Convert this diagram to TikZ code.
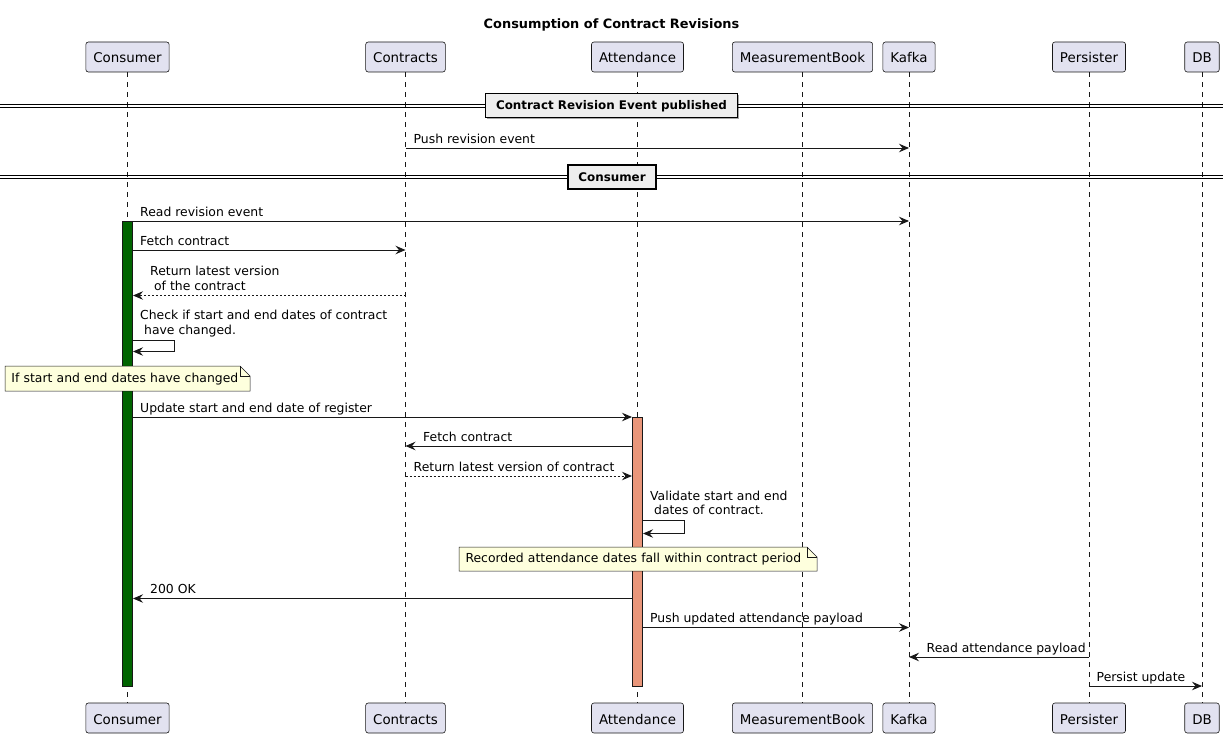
\documentclass[tikz,border=0pt]{standalone}
\usepackage{fontspec}
\setmainfont{DejaVu Sans}
\usetikzlibrary{arrows.meta,shadows}
\definecolor{edgecol}{HTML}{181818}
\definecolor{partfill}{HTML}{E2E2F0}
\definecolor{notefill}{HTML}{FEFFDD}
\definecolor{divfill}{HTML}{EEEEEE}
\definecolor{greenbar}{HTML}{006400}
\definecolor{salmonbar}{HTML}{E9967A}
\begin{document}
\begin{tikzpicture}[x=1pt, y=-1pt,
  part/.style={draw=edgecol, fill=partfill, line width=0.6pt, rounded corners=2.5pt,
    minimum height=30pt, inner xsep=7.5pt, inner ysep=0pt, text height=14pt, text depth=2pt,
    font=\fontsize{13.4}{16}\selectfont},
  life/.style={draw=edgecol, line width=0.5pt, dash pattern=on 5pt off 5pt},
  actbar/.style={draw=edgecol, line width=0.6pt, inner sep=0pt, minimum width=10.5pt, anchor=north},
  msg/.style={draw=edgecol, line width=0.9pt, -{Stealth[length=10pt, width=8.5pt, inset=3.5pt]}},
  reply/.style={msg, dash pattern=on 2pt off 2pt},
  lbl/.style={anchor=south west, inner sep=0pt, text depth=0pt, align=left,
    font=\fontsize{12.4}{14.6}\selectfont},
  notebox/.style={fill=notefill, inner xsep=6.5pt, inner ysep=0pt, outer sep=0pt, align=left,
    anchor=north west, text height=9.6pt, text depth=1.8pt, font=\fontsize{12.4}{14.6}\selectfont},
  noteline/.style={draw=edgecol, line width=0.5pt},
  divline/.style={draw=black, line width=0.9pt},
  divider/.style={draw=black, fill=divfill, line width=1.4pt, inner xsep=10.4pt, inner ysep=0pt,
    minimum height=24pt, text height=8.7pt, text depth=0pt,
    font=\bfseries\fontsize{11.9}{14}\selectfont,
    drop shadow={shadow xshift=1.2pt, shadow yshift=-1.2pt, opacity=0.35, fill=black}}
]
\useasboundingbox[fill=white] (0,0) rectangle (1229,738);

% title
\node[font=\bfseries\fontsize{12.9}{15}\selectfont, anchor=base, inner sep=0pt] (title) at (611.5,29) {Consumption of Contract Revisions};

% participants
\node[part] (pConsumer) at (127.5,57) {Consumer};
\node[part] (pContracts) at (405.5,57) {Contracts};
\node[part] (pAttendance) at (637.5,57) {Attendance};
\node[part] (pMB) at (802.5,57) {MeasurementBook};
\node[part] (pKafka) at (909,57) {Kafka};
\node[part] (pPersister) at (1089,57) {Persister};
\node[part] (pDB) at (1202,57) {DB};

\node[part] (bConsumer) at (127.5,718) {Consumer};
\node[part] (bContracts) at (405.5,718) {Contracts};
\node[part] (bAttendance) at (637.5,718) {Attendance};
\node[part] (bMB) at (802.5,718) {MeasurementBook};
\node[part] (bKafka) at (909,718) {Kafka};
\node[part] (bPersister) at (1089,718) {Persister};
\node[part] (bDB) at (1202,718) {DB};

% lifelines
\foreach \n in {Consumer,Contracts,Attendance,MB,Kafka,Persister,DB}
  \draw[life] (p\n.south) -- (b\n.north);

% activation bars
\node[actbar, fill=greenbar, minimum height=465pt] (barC) at (127.5,221) {};
\node[actbar, fill=salmonbar, minimum height=269pt] (barA) at (637.5,417) {};

% messages
\draw[msg] (pContracts |- 0,148) -- (pKafka |- 0,148);
\node[lbl] (l1) at (413.5,143.5) {Push revision event};

\draw[msg] (barC.east |- 0,221) -- (pKafka |- 0,221);
\node[lbl] (l2) at (140,216.5) {Read revision event};

\draw[msg] (barC.east |- 0,250) -- (pContracts |- 0,250);
\node[lbl] (l3) at (140,245.5) {Fetch contract};

\draw[reply] (pContracts |- 0,295.5) -- (barC.east |- 0,295.5);
\node[lbl] (l4) at (150,290.5) {Return latest version\\\ of the contract};

\draw[msg] (barC.east |- 0,340) -- (174,340) -- (174,351.5) -- (barC.east |- 0,351.5);
\node[lbl] (l5) at (140,334.5) {Check if start and end dates of contract\\\ have changed.};

\draw[msg] (barC.east |- 0,417) -- (barA.west |- 0,417);
\node[lbl] (l6) at (140,412.5) {Update start and end date of register};

\draw[msg] (barA.west |- 0,446) -- (pContracts |- 0,446);
\node[lbl] (l7) at (423,441.5) {Fetch contract};

\draw[reply] (pContracts |- 0,476) -- (barA.west |- 0,476);
\node[lbl] (l8) at (413.5,471.5) {Return latest version of contract};

\draw[msg] (barA.east |- 0,520.5) -- (684.5,520.5) -- (684.5,533.5) -- (barA.east |- 0,533.5);
\node[lbl] (l9) at (650,515) {Validate start and end\\\ dates of contract.};

\draw[msg] (barA.west |- 0,598.5) -- (barC.east |- 0,598.5);
\node[lbl] (l10) at (150,594) {200 OK};

\draw[msg] (barA.east |- 0,627.5) -- (pKafka |- 0,627.5);
\node[lbl] (l11) at (650,623) {Push updated attendance payload};

\draw[msg] (pPersister |- 0,657) -- (pKafka |- 0,657);
\node[lbl] (l12) at (926.5,652.5) {Read attendance payload};

\draw[msg] (pPersister |- 0,686) -- (pDB |- 0,686);
\node[lbl] (l13) at (1096.5,681.5) {Persist update};

% notes
\node[notebox, text width=232pt, minimum height=25pt] (note1) at (5,366) {If start and end dates have changed};
\fill[white] ([xshift=-10pt]note1.north east) -- (note1.north east) -- ([yshift=-10pt]note1.north east) -- cycle;
\draw[noteline] (note1.south west) -- (note1.north west) -- ([xshift=-10pt]note1.north east)
  -- ([yshift=-10pt]note1.north east) -- (note1.south east) -- cycle;
\draw[noteline] ([xshift=-10pt]note1.north east) -- ([xshift=-10pt,yshift=-10pt]note1.north east)
  -- ([yshift=-10pt]note1.north east);

\node[notebox, text width=345pt, minimum height=24pt] (note2) at (459,547) {Recorded attendance dates fall within contract period};
\fill[white] ([xshift=-10pt]note2.north east) -- (note2.north east) -- ([yshift=-10pt]note2.north east) -- cycle;
\draw[noteline] (note2.south west) -- (note2.north west) -- ([xshift=-10pt]note2.north east)
  -- ([yshift=-10pt]note2.north east) -- (note2.south east) -- cycle;
\draw[noteline] ([xshift=-10pt]note2.north east) -- ([xshift=-10pt,yshift=-10pt]note2.north east)
  -- ([yshift=-10pt]note2.north east);

% dividers
\coordinate (d1l) at (0,105.5);
\coordinate (d1r) at (1223,105.5);
\draw[divline] ([yshift=1.5pt]d1l) -- ([yshift=1.5pt]d1r);
\draw[divline] ([yshift=-1.5pt]d1l) -- ([yshift=-1.5pt]d1r);
\node[divider] (div1) at (611.5,105.5) {Contract Revision Event published};

\coordinate (d2l) at (0,176.5);
\coordinate (d2r) at (1223,176.5);
\draw[divline] ([yshift=1.5pt]d2l) -- ([yshift=1.5pt]d2r);
\draw[divline] ([yshift=-1.5pt]d2l) -- ([yshift=-1.5pt]d2r);
\node[divider] (div2) at (612,177) {Consumer};
\end{tikzpicture}
\end{document}
